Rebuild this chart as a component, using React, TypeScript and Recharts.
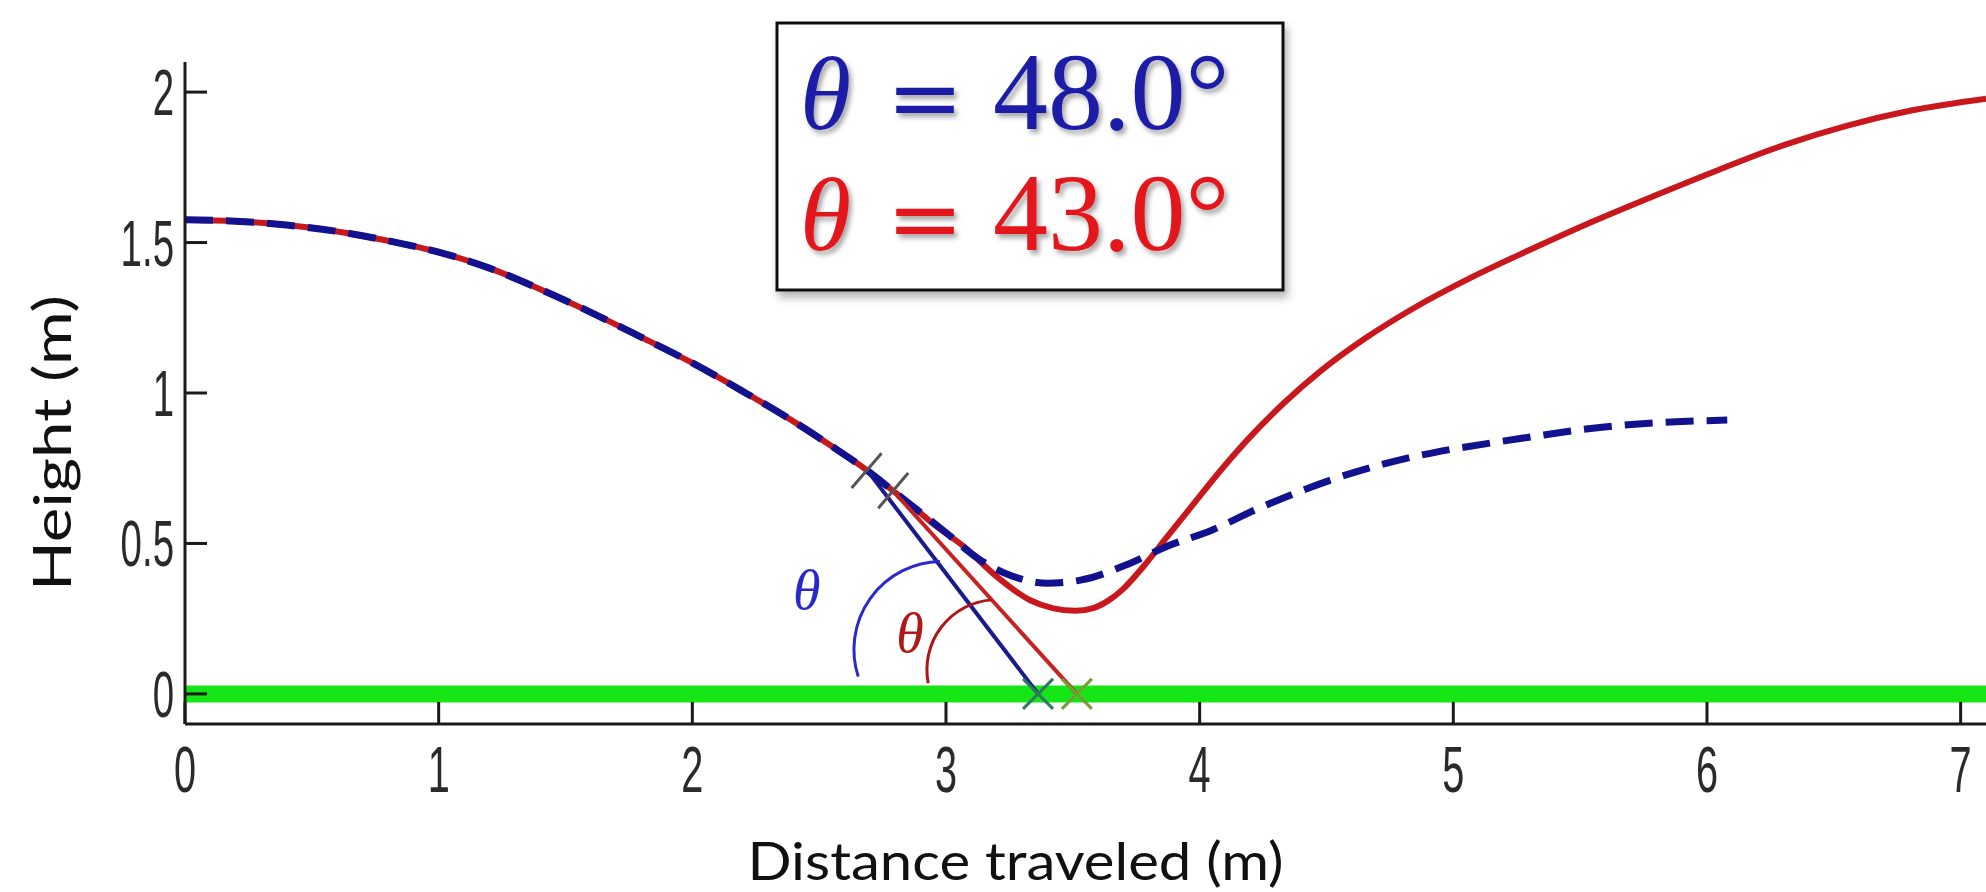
import React from "react";
import {
  ComposedChart,
  Line,
  XAxis,
  YAxis,
  ReferenceLine,
  ReferenceDot,
  Customized,
} from "recharts";

// shared path before the two runs split (m)
const sharedX = [0, 0.2, 0.4, 0.6, 0.8, 1.0, 1.2, 1.4, 1.6, 1.8, 2.0, 2.2, 2.4, 2.55, 2.69];
const sharedY = [1.576, 1.571, 1.558, 1.537, 1.506, 1.468, 1.415, 1.345, 1.268, 1.185, 1.1, 1.005, 0.905, 0.823, 0.742];

// theta = 48.0 (blue, dashed)
const blueX = [2.79, 2.9, 3.0, 3.13, 3.26, 3.4, 3.53, 3.72, 3.87, 4.05, 4.22, 4.41, 4.6, 4.79, 4.98, 5.18, 5.37, 5.55, 5.73, 5.9, 6.08];
const blueY = [0.676, 0.603, 0.536, 0.448, 0.392, 0.368, 0.378, 0.432, 0.49, 0.545, 0.612, 0.678, 0.734, 0.778, 0.811, 0.838, 0.862, 0.883, 0.897, 0.905, 0.91];

// theta = 43.0 (red, solid)
const redX = [2.79, 2.87, 2.95, 3.07, 3.2, 3.33, 3.42, 3.51, 3.58, 3.64, 3.7, 3.78, 3.87, 3.97, 4.08, 4.2, 4.33, 4.48, 4.65, 4.85, 5.05, 5.3, 5.55, 5.8, 6.05, 6.3, 6.55, 6.8, 7.1];
const redY = [0.676, 0.622, 0.565, 0.49, 0.39, 0.312, 0.285, 0.276, 0.285, 0.31, 0.35, 0.425, 0.52, 0.625, 0.74, 0.855, 0.965, 1.075, 1.18, 1.285, 1.375, 1.475, 1.57, 1.658, 1.743, 1.823, 1.888, 1.938, 1.978];

// tangent lines: start on the curve, end on the ground
const blueTangentX = [2.69, 3.363];
const blueTangentY = [0.742, 0];
const redTangentX = [2.79, 3.516];
const redTangentY = [0.676, 0];

// angle arcs [start, end]
const blueArcX = [2.654, 2.976];
const blueArcY = [0.0575, 0.44];
const redArcX = [2.93, 3.18];
const redArcY = [0.0356, 0.3125];

// little cross-ticks on the curve at the launch points
const launchTickX = [[2.628, 2.746], [2.733, 2.851]];
const launchTickY = [[0.684, 0.8], [0.617, 0.734]];

const xTicks = [0, 1, 2, 3, 4, 5, 6, 7];
const yTicks = [0, 0.5, 1, 1.5, 2];
const angleLabels = ["48.0°", "43.0°"];

const BLUE = "#12128e";
const RED = "#c8181d";

const toPoints = (xs: number[], ys: number[]) => xs.map((x, i) => ({ x, y: ys[i] }));
const blueData = toPoints([...sharedX, ...blueX], [...sharedY, ...blueY]);
const redData = toPoints([...sharedX, ...redX], [...sharedY, ...redY]);

const tickFont = "'Liberation Sans', Arial, sans-serif";

const XTick = ({ x, y, payload }: any) => (
  <g>
    <line x1={x} x2={x} y1={y} y2={y - 22} stroke="#1a1a1a" strokeWidth={3} />
    <text
      transform={`translate(${x},${y + 68}) scale(0.62,1)`}
      textAnchor="middle"
      fontSize={64}
      fontFamily={tickFont}
      fill="#2a2a2a"
    >
      {payload.value}
    </text>
  </g>
);

const YTick = ({ x, y, payload }: any) => (
  <g>
    <line x1={x} x2={x + 22} y1={y} y2={y} stroke="#1a1a1a" strokeWidth={3} />
    <text
      transform={`translate(${x - 11},${y + 23}) scale(0.6,1)`}
      textAnchor="end"
      fontSize={64}
      fontFamily={tickFont}
      fill="#2a2a2a"
    >
      {payload.value}
    </text>
  </g>
);

const XTitle = ({ viewBox }: any) => (
  <text
    x={viewBox.x + viewBox.width / 2 - 70}
    y={viewBox.y + 156}
    textAnchor="middle"
    fontSize={52}
    fontFamily="Lato, 'Open Sans', sans-serif"
    textLength={536}
    lengthAdjust="spacingAndGlyphs"
    fill="#111"
  >
    Distance traveled (m)
  </text>
);

const YTitle = ({ viewBox }: any) => {
  const cx = 71;
  const cy = viewBox.y + viewBox.height / 2 + 50;
  return (
    <text
      x={cx}
      y={cy}
      transform={`rotate(-90, ${cx}, ${cy})`}
      textAnchor="middle"
      fontSize={52}
      fontFamily="Lato, 'Open Sans', sans-serif"
      textLength={296}
      lengthAdjust="spacingAndGlyphs"
      fill="#111"
    >
      Height (m)
    </text>
  );
};

const arcShape = (r: number, color: string) => (props: any) => {
  const { x1, y1, x2, y2 } = props;
  return (
    <path
      d={`M ${x1} ${y1} A ${r} ${r} 0 0 1 ${x2} ${y2}`}
      fill="none"
      stroke={color}
      strokeWidth={3}
    />
  );
};

const crossMark = (color: string) => (props: any) => {
  const { cx, cy } = props;
  const s = 15;
  return (
    <g stroke={color} strokeWidth={3}>
      <line x1={cx - s} y1={cy - s} x2={cx + s} y2={cy + s} />
      <line x1={cx - s} y1={cy + s} x2={cx + s} y2={cy - s} />
    </g>
  );
};

const thetaMark = (color: string) => (props: any) => (
  <text
    x={props.cx}
    y={props.cy}
    textAnchor="middle"
    dominantBaseline="central"
    fontSize={56}
    fontStyle="italic"
    fontFamily="'Liberation Serif', 'DejaVu Serif', serif"
    fill={color}
  >
    θ
  </text>
);

const AngleBox = () => {
  const colors = ["#1b1fa6", "#e3161c"];
  const baselines = [129, 250];
  return (
    <g>
      <defs>
        <filter id="boxShadow" x="-10%" y="-10%" width="130%" height="140%">
          <feDropShadow dx="3" dy="6" stdDeviation="4" floodColor="#000" floodOpacity="0.3" />
        </filter>
        <filter id="textShadow" x="-10%" y="-20%" width="130%" height="150%">
          <feDropShadow dx="3" dy="4" stdDeviation="2.5" floodColor="#000" floodOpacity="0.35" />
        </filter>
      </defs>
      <rect x={777} y={23} width={506} height={267} fill="#fff" stroke="#111" strokeWidth={3} filter="url(#boxShadow)" />
      {angleLabels.map((label, i) => (
        <g key={label} fill={colors[i]} filter="url(#textShadow)" fontFamily="'Liberation Serif', 'DejaVu Serif', serif">
          <text x={800} y={baselines[i]} fontSize={104} fontStyle="italic">
            θ
          </text>
          <text x={925} y={baselines[i]} fontSize={92} textAnchor="middle" fontFamily="'DejaVu Serif', serif">
            =
          </text>
          <text x={993} y={baselines[i]} fontSize={110}>
            {label}
          </text>
        </g>
      ))}
    </g>
  );
};

export default function App() {
  return (
    <div style={{ position: "absolute", left: 0, top: 0, background: "#fff" }}>
      <ComposedChart width={1986} height={892} margin={{ top: 62, right: 0, bottom: 0, left: 0 }}>
        <XAxis
          type="number"
          dataKey="x"
          domain={[0, 7.1]}
          ticks={xTicks}
          allowDataOverflow
          height={168}
          tickSize={0}
          tickMargin={0}
          tickLine={false}
          axisLine={{ stroke: "#1a1a1a", strokeWidth: 3 }}
          tick={<XTick />}
          label={<XTitle />}
        />
        <YAxis
          type="number"
          domain={[-0.1, 2.1]}
          ticks={yTicks}
          allowDataOverflow
          width={185}
          tickSize={0}
          tickMargin={0}
          tickLine={false}
          axisLine={{ stroke: "#1a1a1a", strokeWidth: 3 }}
          tick={<YTick />}
          label={<YTitle />}
        />

        <ReferenceLine y={0} stroke="#16e616" strokeWidth={17} />

        <Line
          data={redData}
          dataKey="y"
          type="monotone"
          stroke={RED}
          strokeWidth={6}
          dot={false}
          activeDot={false}
          isAnimationActive={false}
        />
        <Line
          data={blueData}
          dataKey="y"
          type="monotone"
          stroke={BLUE}
          strokeWidth={7}
          strokeDasharray="28 13"
          dot={false}
          activeDot={false}
          isAnimationActive={false}
        />
        <Line
          data={toPoints(blueTangentX, blueTangentY)}
          dataKey="y"
          type="linear"
          stroke="#1a1a8c"
          strokeWidth={4}
          dot={false}
          activeDot={false}
          isAnimationActive={false}
        />
        <Line
          data={toPoints(redTangentX, redTangentY)}
          dataKey="y"
          type="linear"
          stroke="#c62222"
          strokeWidth={4}
          dot={false}
          activeDot={false}
          isAnimationActive={false}
        />

        {launchTickX.map((xs, i) => (
          <ReferenceLine
            key={i}
            segment={[
              { x: xs[0], y: launchTickY[i][0] },
              { x: xs[1], y: launchTickY[i][1] },
            ]}
            stroke="#555"
            strokeWidth={3}
          />
        ))}

        <ReferenceLine
          segment={[
            { x: blueArcX[0], y: blueArcY[0] },
            { x: blueArcX[1], y: blueArcY[1] },
          ]}
          shape={arcShape(88, "#2a2acc")}
        />
        <ReferenceLine
          segment={[
            { x: redArcX[0], y: redArcY[0] },
            { x: redArcX[1], y: redArcY[1] },
          ]}
          shape={arcShape(70, "#b01414")}
        />

        <ReferenceDot x={2.451} y={0.346} r={0} shape={thetaMark("#2a2acc")} />
        <ReferenceDot x={2.858} y={0.202} r={0} shape={thetaMark("#b01818")} />

        <ReferenceDot x={blueTangentX[1]} y={blueTangentY[1]} r={0} shape={crossMark("#2b7a5e")} />
        <ReferenceDot x={redTangentX[1]} y={redTangentY[1]} r={0} shape={crossMark("#74a032")} />

        <Customized component={<AngleBox />} />
      </ComposedChart>
    </div>
  );
}
